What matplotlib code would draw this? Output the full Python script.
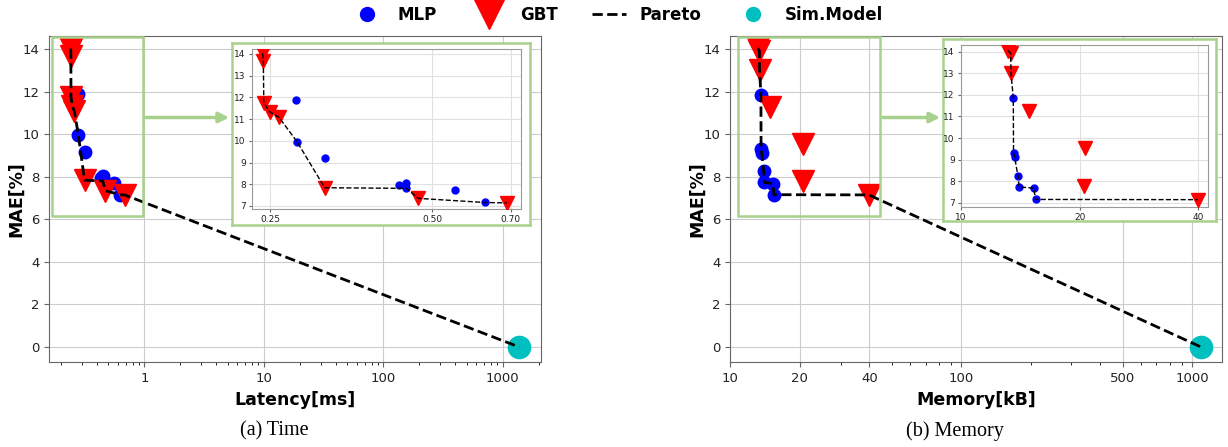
import matplotlib
matplotlib.use("Agg")
import matplotlib.pyplot as plt
import numpy as np
from matplotlib.lines import Line2D
from matplotlib.patches import FancyArrowPatch, Rectangle

# ---- data ----
# (a) latency [ms] vs MAE [%]
mlp_lat = [0.2795, 0.2802, 0.316, 0.4334, 0.4478, 0.448, 0.5527, 0.6266]
mlp_lat_mae = [11.87, 9.96, 9.19, 7.95, 8.05, 7.81, 7.72, 7.16]
gbt_lat = [0.2418, 0.2425, 0.243, 0.2492, 0.2594, 0.3155, 0.471, 0.690]
gbt_lat_mae = [14.03, 13.68, 11.76, 11.34, 11.08, 7.84, 7.35, 7.14]
sim_lat = [1370]

# (b) memory [kB] vs MAE [%]
mlp_mem = [13.57, 13.59, 13.67, 13.94, 14.05, 15.30, 15.45]
mlp_mem_mae = [11.86, 9.31, 9.14, 8.26, 7.74, 7.68, 7.16]
gbt_mem = [13.15, 13.36, 13.39, 14.86, 20.68, 20.56, 39.8]
gbt_mem_mae = [14.05, 13.93, 13.00, 11.27, 9.53, 7.80, 7.15]
sim_mem = [1090]
sim_mae = [0.0]

GREEN = "#a9d18e"
W, H = 1228, 447


def fx(px):
    return px / W


def fy(py):
    return 1 - py / H


def pareto(xs, ys):
    xs, ys = np.asarray(xs), np.asarray(ys)
    keep = []
    best = np.inf
    for i in np.argsort(xs):
        if ys[i] < best:
            keep.append(i)
            best = ys[i]
    return xs[keep], ys[keep]


def style_axes(ax, spine="#666666", grid="#cccccc"):
    for s in ax.spines.values():
        s.set_color(spine)
    ax.grid(True, which="major", color=grid, lw=0.8)
    ax.set_axisbelow(True)
    ax.tick_params(colors="#666666", labelcolor="#222222")


def panel(ax, mx, my, gx, gy, sx, sy, xticks, xlim, rect):
    ax.set_xscale("log")
    ax.plot(mx, my, "o", color="blue", ms=9, ls="none", zorder=3)
    ax.plot(gx, gy, "v", color="red", ms=16, ls="none", zorder=4)
    ax.plot(sx, sy, "o", color="c", ms=16, ls="none", zorder=3)
    px, py = pareto(list(mx) + list(gx) + list(sx), list(my) + list(gy) + list(sy))
    ax.plot(px, py, "k--", lw=2, zorder=5)
    ax.set_xlim(*xlim)
    ax.set_ylim(-0.72, 14.62)
    ax.set_yticks(range(0, 15, 2))
    ax.set_xticks(xticks)
    ax.set_xticklabels([str(t) for t in xticks])
    ax.tick_params(labelsize=9.5)
    ax.set_ylabel("MAE[%]", fontsize=12.5, fontweight="bold", labelpad=-2)
    style_axes(ax)
    x0, x1, y0, y1 = rect
    ax.add_patch(Rectangle((x0, y0), x1 - x0, y1 - y0, fill=False, ec=GREEN, lw=1.8, zorder=6))


def inset(frame_px, ax_px, mx, my, gx, gy, xticks, xlabels, xlim, ylim):
    l, t, r, b = frame_px
    fr = fig.add_axes([fx(l), fy(b), fx(r - l), (b - t) / H])
    fr.set_xticks([])
    fr.set_yticks([])
    for s in fr.spines.values():
        s.set_color(GREEN)
        s.set_linewidth(1.8)
    l, t, r, b = ax_px
    ai = fig.add_axes([fx(l), fy(b), fx(r - l), (b - t) / H])
    ai.set_xscale("log")
    ai.plot(mx, my, "o", color="blue", ms=5, ls="none", zorder=3)
    ai.plot(gx, gy, "v", color="red", ms=9.5, ls="none", zorder=4)
    px, py = pareto(list(mx) + list(gx), list(my) + list(gy))
    ai.plot(px, py, "k--", lw=1, zorder=5)
    ai.set_xlim(*xlim)
    ai.set_ylim(*ylim)
    ai.set_yticks(range(7, 15))
    ai.xaxis.set_minor_locator(matplotlib.ticker.NullLocator())
    ai.set_xticks(xticks)
    ai.set_xticklabels(xlabels)
    ai.tick_params(labelsize=6.5, length=2.5, pad=2)
    style_axes(ai, spine="#999999", grid="#e0e0e0")
    return ai


fig = plt.figure(figsize=(W / 100, H / 100), dpi=100)

ax1 = fig.add_axes([fx(49.3), fy(362.3), fx(541 - 49.3), (362.3 - 36) / H])
panel(ax1, mlp_lat, mlp_lat_mae, gbt_lat, gbt_lat_mae, sim_lat, sim_mae,
      [1, 10, 100, 1000], (0.160, 2090), (0.169, 0.975, 6.14, 14.58))
ax1.set_xlabel("Latency[ms]", fontsize=12.5, fontweight="bold")

ax2 = fig.add_axes([fx(730.3), fy(362.3), fx(1222.3 - 730.3), (362.3 - 36) / H])
panel(ax2, mlp_mem, mlp_mem_mae, gbt_mem, gbt_mem_mae, sim_mem, sim_mae,
      [10, 20, 40, 100, 500, 1000], (10, 1349), (10.8, 44.6, 6.15, 14.56))
ax2.set_xlabel("Memory[kB]", fontsize=12.5, fontweight="bold")

inset((232, 43, 530, 225), (252, 49, 521, 209), mlp_lat, mlp_lat_mae, gbt_lat, gbt_lat_mae,
      [0.25, 0.5, 0.7], ["0.25", "0.50", "0.70"], (0.231, 0.732), (6.86, 14.23))
inset((943, 39, 1216, 221), (961, 45, 1208, 207), mlp_mem, mlp_mem_mae, gbt_mem, gbt_mem_mae,
      [10, 20, 40], ["10", "20", "40"], (10, 42.3), (6.81, 14.31))

for a, b in [(143, 232), (880, 943)]:
    fig.add_artist(FancyArrowPatch((fx(a), fy(117.5)), (fx(b), fy(117.5)), transform=fig.transFigure,
                                   arrowstyle="-|>", mutation_scale=15, lw=2.5, color=GREEN))

handles = [
    Line2D([], [], marker="o", color="blue", ls="none", ms=10),
    Line2D([], [], marker="v", color="red", ls="none", ms=21),
    Line2D([], [], color="k", ls="--", lw=2),
    Line2D([], [], marker="o", color="c", ls="none", ms=10),
]
fig.legend(handles, ["MLP", "GBT", "Pareto", "Sim.Model"], loc="upper center", bbox_to_anchor=(0.502, 1.02),
           ncol=4, frameon=False, prop={"weight": "bold", "size": 12}, columnspacing=2.1, handletextpad=0.85)

serif = ["Liberation Serif", "DejaVu Serif"]
fig.text(fx(274), fy(430.7), "(a) Time", ha="center", va="center", fontsize=14.5, family=serif)
fig.text(fx(955), fy(430.7), "(b) Memory", ha="center", va="center", fontsize=14.5, family=serif)

fig.savefig("out.png", dpi=100)
